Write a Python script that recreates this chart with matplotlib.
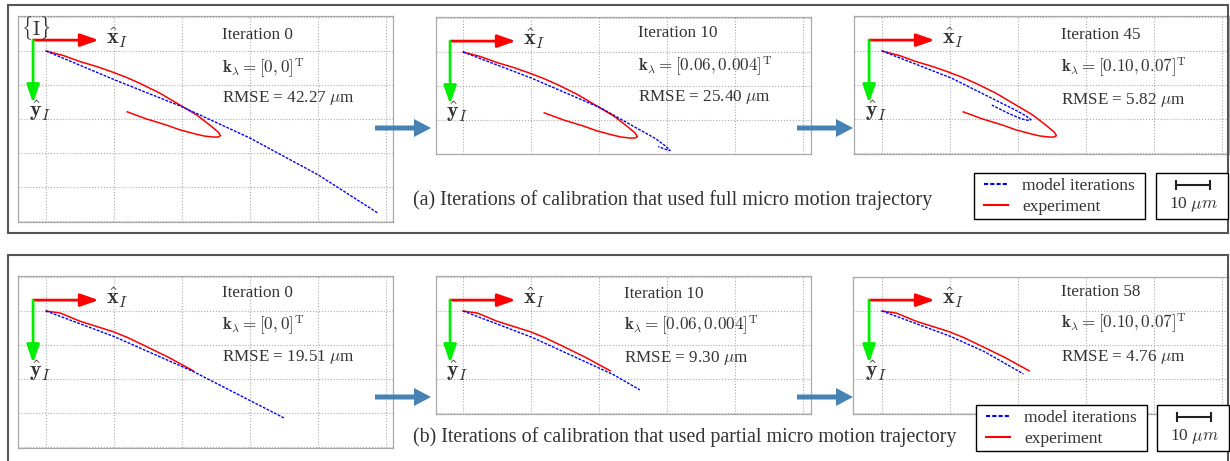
import numpy as np
import matplotlib
matplotlib.use('Agg')
import matplotlib.pyplot as plt
from matplotlib.patches import Rectangle, FancyArrow
from matplotlib.lines import Line2D

# experiment: full micro motion trajectory (um, y down)
exp_full_x = [0, 5, 10, 15, 19.3, 23.5, 27.6, 33.5, 39.4, 44.3, 48.2, 50.7, 51.3, 50.6, 49.1,
              46.5, 44.3, 39.4, 35.5, 29.6, 23.9]
exp_full_y = [0, 1.3, 3.1, 4.6, 6.1, 7.7, 9.5, 12.4, 15.9, 18.8, 21.8, 23.9, 24.9, 25.3, 25.3,
              25.0, 24.5, 23.2, 21.8, 20.0, 17.9]

# model iterations, full trajectory
model_full_it0_x = [0, 20, 40, 60, 80, 97.5]
model_full_it0_y = [0, 8.4, 16.4, 25.6, 36.4, 47.6]
model_full_it10_x = [0, 20.2, 40.8, 48.6, 56.5, 59.5, 60.9, 59.5, 57.4]
model_full_it10_y = [0, 7.7, 16.6, 21.0, 25.4, 27.6, 29.0, 28.6, 27.8]
model_full_it45_x = [0, 20.5, 32.3, 40.1, 42.5, 43.8, 43.0, 41.1, 37.1, 32.3]
model_full_it45_y = [0, 8.0, 13.9, 17.8, 19.2, 20.2, 20.4, 20.0, 18.3, 15.9]

# experiment: partial trajectory
exp_part_x = [0, 4.2, 10, 19.8, 24, 28.6, 36, 43.3]
exp_part_y = [0, 0.6, 3.0, 6.1, 7.8, 10.0, 13.6, 17.6]

# model iterations, partial trajectory
model_part_it0_x = [0, 20, 43.3, 70.3]
model_part_it0_y = [0, 7.5, 17.8, 31.6]
model_part_it10_x = [0, 20.2, 44.2, 52.0]
model_part_it10_y = [0, 7.7, 18.7, 23.2]
model_part_it58_x = [0, 20, 30, 41.6]
model_part_it58_y = [0, 7.4, 11.9, 18.5]

iterations_a = ['Iteration 0', 'Iteration 10', 'Iteration 45']
iterations_b = ['Iteration 0', 'Iteration 10', 'Iteration 58']
k_labels = [r'$\mathbf{k}_\lambda = [0, 0]^\mathrm{T}$',
            r'$\mathbf{k}_\lambda = [0.06, 0.004]^\mathrm{T}$',
            r'$\mathbf{k}_\lambda = [0.10, 0.07]^\mathrm{T}$']
rmse_a = [42.27, 25.40, 5.82]
rmse_b = [19.51, 9.30, 4.76]

W, H = 1230, 461
PX = 3.4  # pixels per um

plt.rcParams['font.family'] = ['Liberation Serif', 'DejaVu Serif']
plt.rcParams['mathtext.fontset'] = 'cm'

fig = plt.figure(figsize=(W / 100, H / 100), dpi=100)


def fx(x):
    return x / W


def fy(y):
    return 1 - y / H


# panel frames
fig.patches.append(Rectangle((fx(8), fy(233)), fx(1220), 228 / H, transform=fig.transFigure,
                             fill=False, ec='#555555', lw=1.5))
fig.patches.append(Rectangle((fx(8), fy(475)), fx(1220), 220 / H, transform=fig.transFigure,
                             fill=False, ec='#555555', lw=1.5))

# axes boxes in pixels: left, top, right, bottom, origin x, origin y
layout = [
    (18, 16, 393, 222, 46, 51),
    (436, 17, 811, 154, 463, 52),
    (854, 16, 1229, 154, 882, 51),
    (18, 276, 393, 448, 46, 311),
    (436, 276, 811, 414, 463, 311),
    (853, 277, 1228, 414, 882, 311),
]
models = [
    (model_full_it0_x, model_full_it0_y, exp_full_x, exp_full_y),
    (model_full_it10_x, model_full_it10_y, exp_full_x, exp_full_y),
    (model_full_it45_x, model_full_it45_y, exp_full_x, exp_full_y),
    (model_part_it0_x, model_part_it0_y, exp_part_x, exp_part_y),
    (model_part_it10_x, model_part_it10_y, exp_part_x, exp_part_y),
    (model_part_it58_x, model_part_it58_y, exp_part_x, exp_part_y),
]
text_pos = [(222, 35, 68, 98), (638, 33, 66, 97), (1061, 35, 67, 100),
            (222, 293, 325, 357), (624, 294, 325, 358), (1061, 292, 323, 357)]
iters = iterations_a + iterations_b
rmses = rmse_a + rmse_b
ks = k_labels + k_labels

txt_c = '#333333'
fs = 12.3
for i, (l, t, r, b, ox, oy) in enumerate(layout):
    ax = fig.add_axes([fx(l), fy(b), (r - l) / W, (b - t) / H])
    ax.set_xticks(np.arange(0, 101, 20))
    ax.set_yticks(np.arange(-10, 51, 10))
    ax.set_xlim((l - ox) / PX, (r - ox) / PX)
    ax.set_ylim((b - oy) / PX, (t - oy) / PX)
    ax.tick_params(length=0, labelbottom=False, labelleft=False)
    ax.grid(True, ls=':', color='#aaaaaa', lw=0.8)
    for s in ax.spines.values():
        s.set_color('#aaaaaa')
        s.set_linewidth(0.9)
    mx, my, ex, ey = models[i]
    ax.plot(ex, ey, color='#ff0000', lw=1.1, zorder=3)
    ax.plot(mx, my, color='#0000ff', lw=1.0, ls=(0, (2.0, 1.0)), zorder=4)

    # coordinate frame {I}
    o = (-3.8, -3.2)
    ax.annotate('', xy=(o[0] + 19.3, o[1]), xytext=o,
                arrowprops=dict(arrowstyle='-|>,head_width=0.35,head_length=1.0',
                                color='#ff0000', lw=2.0, mutation_scale=11, shrinkA=0, shrinkB=0))
    ax.annotate('', xy=(o[0], o[1] + 18.5), xytext=o,
                arrowprops=dict(arrowstyle='-|>,head_width=0.35,head_length=1.0',
                                color='#00ee00', lw=2.0, mutation_scale=11, shrinkA=0, shrinkB=0))
    ax.text(o[0] + 21.5, o[1] - 0.5, r'$\hat{\mathbf{x}}_I$', fontsize=16, va='center', ha='left',
            color=txt_c)
    ax.text(o[0] - 1.2, o[1] + 20.8, r'$\hat{\mathbf{y}}_I$', fontsize=16, va='center', ha='left',
            color=txt_c)

    tx, y1, y2, y3 = text_pos[i]
    fig.text(fx(tx), fy(y1), iters[i], fontsize=fs, va='center', color=txt_c)
    fig.text(fx(tx), fy(y2), ks[i], fontsize=fs, va='center', color=txt_c)
    fig.text(fx(tx), fy(y3), 'RMSE = %.2f $\\mu$m' % rmses[i], fontsize=fs, va='center', color=txt_c)

fig.text(fx(21), fy(28), r'$\{\mathrm{I}\}$', fontsize=14, va='center', color=txt_c)

# captions
fig.text(fx(413), fy(200), '(a) Iterations of calibration that used full micro motion trajectory',
         fontsize=14.4, va='center', color=txt_c)
fig.text(fx(413), fy(437), '(b) Iterations of calibration that used partial micro motion trajectory',
         fontsize=14.4, va='center', color=txt_c)

# arrows between iterations
for (x0, y0) in [(375, 128), (797, 128), (375, 397), (797, 397)]:
    fig.patches.append(FancyArrow(fx(x0), fy(y0), fx(56), 0, width=5 / H, head_width=18 / H,
                                  head_length=fx(17), length_includes_head=True,
                                  transform=fig.transFigure, color='#4682b4', lw=0))

# legends and scale bars
handles = [Line2D([], [], color='#0000ff', lw=1.5, ls=(0, (2.0, 1.0))),
           Line2D([], [], color='#ff0000', lw=1.5)]
names = ['model iterations', 'experiment']
for (lx, ly) in [(974, 173), (976, 405)]:
    fig.patches.append(Rectangle((fx(lx), fy(ly + 46)), fx(171), 46 / H, transform=fig.transFigure,
                                 fill=True, fc='white', ec='black', lw=1.0, zorder=5))
    leg = fig.legend(handles, names, loc='upper left', bbox_to_anchor=(fx(lx + 8), fy(ly + 3)),
                     frameon=False, fontsize=12.5, handlelength=1.4, handletextpad=0.8,
                     borderpad=0.1, labelspacing=0.3, borderaxespad=0)
    leg.set_zorder(6)
    for t in leg.get_texts():
        t.set_color(txt_c)

for (sx, sy) in [(1156, 173), (1157, 405)]:
    fig.patches.append(Rectangle((fx(sx), fy(sy + 46)), fx(72), 46 / H, transform=fig.transFigure,
                                 fill=True, fc='white', ec='black', lw=1.0, zorder=5))
    bar = 10 * PX
    cx = sx + 37
    fig.add_artist(Line2D([fx(cx - bar / 2), fx(cx + bar / 2)], [fy(sy + 12)] * 2,
                          color='#222222', lw=1.5, transform=fig.transFigure, zorder=6))
    for ex_ in (cx - bar / 2, cx + bar / 2):
        fig.add_artist(Line2D([fx(ex_)] * 2, [fy(sy + 8), fy(sy + 16)], color='#222222', lw=1.5,
                              transform=fig.transFigure, zorder=6))
    fig.text(fx(cx), fy(sy + 31), r'10 $\mu m$', fontsize=12.5, ha='center', va='center',
             color=txt_c, zorder=7)

fig.savefig('out.png', dpi=100)
